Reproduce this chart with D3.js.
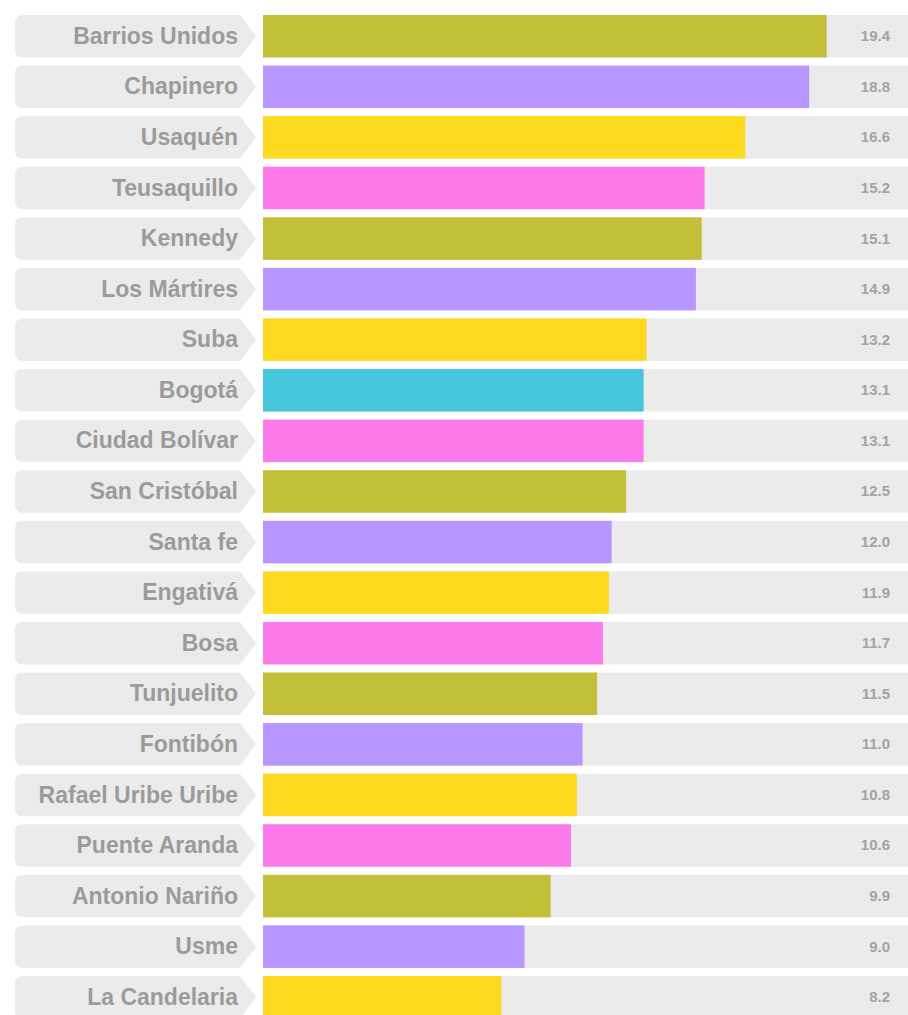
<!DOCTYPE html>
<html>
<head>
<meta charset="utf-8">
<script src="https://cdn.jsdelivr.net/npm/d3@7"></script>
<style>
  body { margin: 0; background: #fff; }
  svg { display: block; font-family: "Liberation Sans", Helvetica, Arial, sans-serif; }
</style>
</head>
<body>
<svg id="chart" width="908" height="1015"></svg>
<script>
// localidades de Bogotá, ordered as in the picture
const names = ["Barrios Unidos", "Chapinero", "Usaquén", "Teusaquillo", "Kennedy",
  "Los Mártires", "Suba", "Bogotá", "Ciudad Bolívar", "San Cristóbal", "Santa fe",
  "Engativá", "Bosa", "Tunjuelito", "Fontibón", "Rafael Uribe Uribe", "Puente Aranda",
  "Antonio Nariño", "Usme", "La Candelaria"];
const values = [19.4, 18.8, 16.6, 15.2, 15.1, 14.9, 13.2, 13.1, 13.1, 12.5, 12.0,
  11.9, 11.7, 11.5, 11.0, 10.8, 10.6, 9.9, 9.0, 8.2];
const palette = ["#c3bf38", "#b797ff", "#fdd920", "#fc7aea"];
const highlight = "#44c6db";

const rows = names.map((n, i) => ({ name: n, value: values[i] }));

let svg = d3.select("#chart");

let y = d3.scaleBand()
  .domain(names)
  .range([15, 1018.5])
  .paddingInner(0.16)
  .paddingOuter(0);

let x = d3.scaleLinear()
  .domain([0, 22.2])
  .range([263, 908]);

let colorIndex = 0;
const colors = rows.map(d => {
  if (d.name === "Bogotá") return highlight;
  return palette[colorIndex++ % palette.length];
});

let g = svg.selectAll("g.row")
  .data(rows)
  .enter()
  .append("g")
  .attr("class", "row")
  .attr("transform", d => "translate(0," + y(d.name) + ")");

const h = y.bandwidth();

// label tag with pointed right end
g.append("path")
  .attr("fill", "#ebebeb")
  .attr("d", () => {
    let r = 8, left = 15, right = 240, tip = 256;
    return "M" + (left + r) + ",0 L" + right + ",0 L" + tip + "," + (h / 2) +
      " L" + right + "," + h + " L" + (left + r) + "," + h +
      " Q" + left + "," + h + " " + left + "," + (h - r) +
      " L" + left + "," + r + " Q" + left + ",0 " + (left + r) + ",0 Z";
  });

g.append("text")
  .attr("x", 238)
  .attr("y", h / 2)
  .attr("dy", "0.33em")
  .attr("text-anchor", "end")
  .attr("font-size", 23)
  .attr("font-weight", "bold")
  .attr("fill", "#9b9b9b")
  .text(d => d.name);

// background track
g.append("rect")
  .attr("x", x(0))
  .attr("width", x.range()[1] - x(0))
  .attr("height", h)
  .attr("fill", "#ebebeb");

g.append("rect")
  .attr("x", x(0))
  .attr("width", d => x(d.value) - x(0))
  .attr("height", h)
  .attr("fill", (d, i) => colors[i]);

g.append("text")
  .attr("x", 890)
  .attr("y", h / 2)
  .attr("dy", "0.33em")
  .attr("text-anchor", "end")
  .attr("font-size", 15)
  .attr("font-weight", "bold")
  .attr("fill", "#a3a3a3")
  .text(d => d.value.toFixed(1));
</script>
</body>
</html>
